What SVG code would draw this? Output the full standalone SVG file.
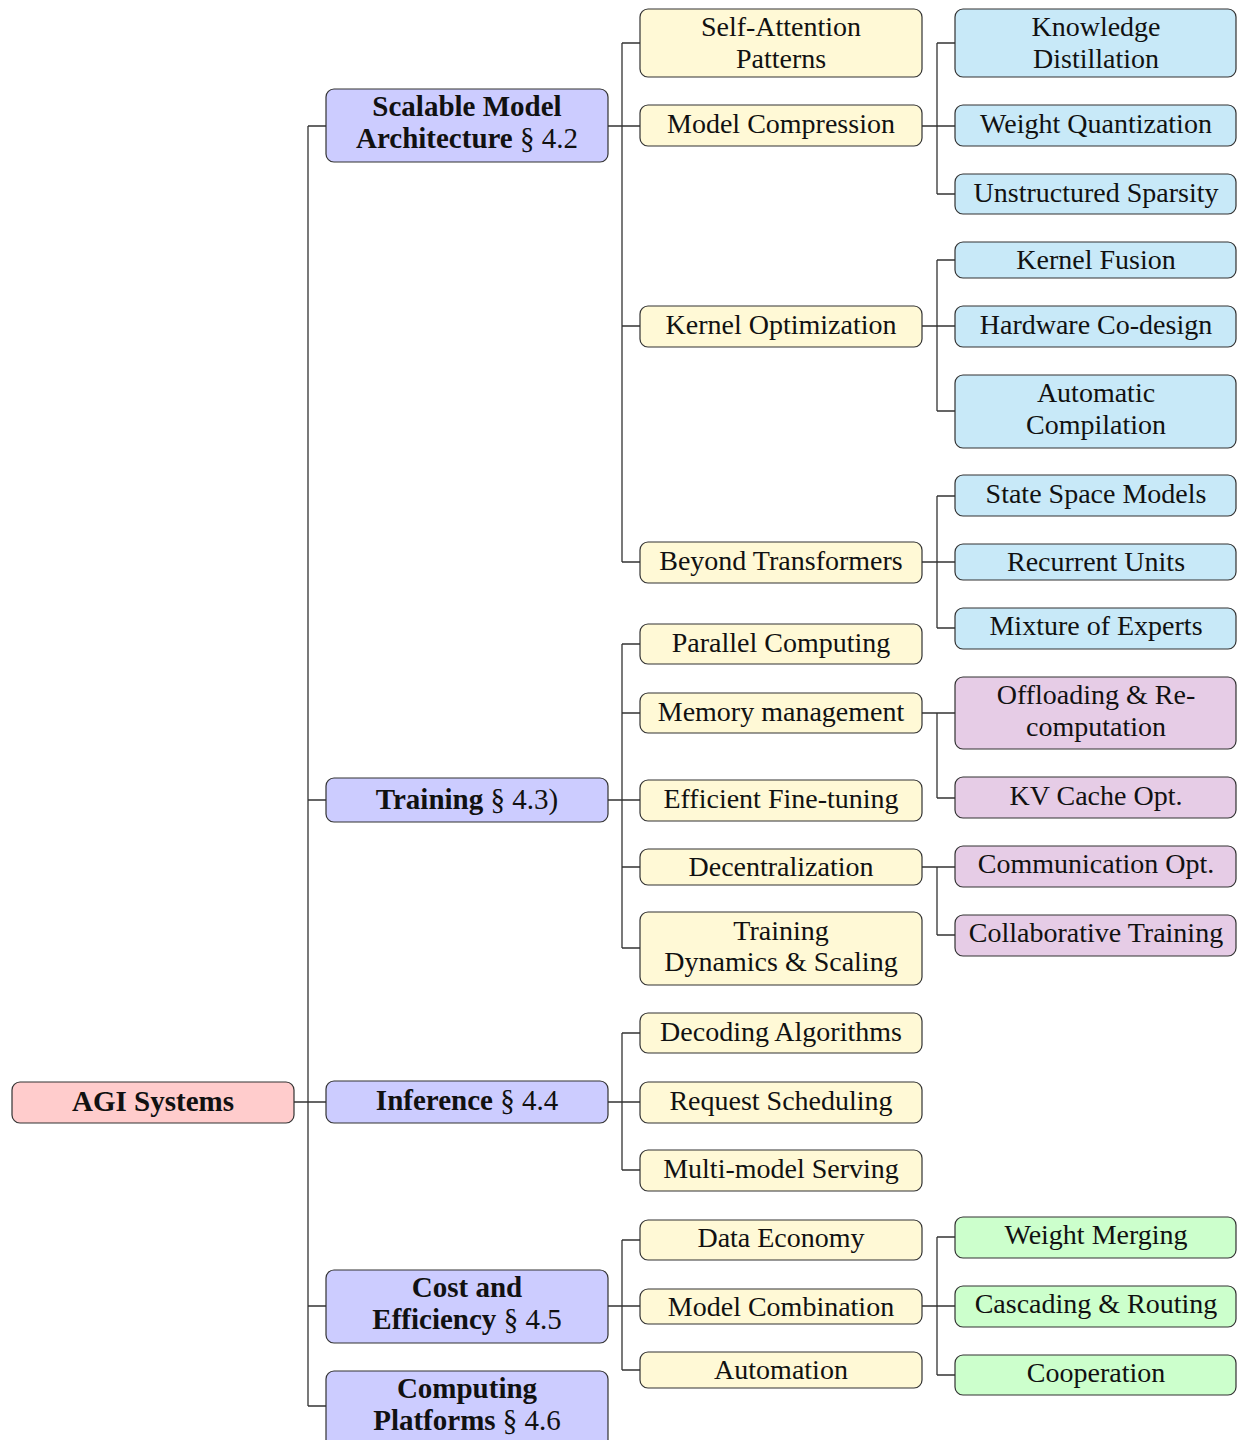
<svg xmlns="http://www.w3.org/2000/svg" width="1237" height="1440" viewBox="0 0 1237 1440">
<style>
rect{stroke:#333;stroke-width:1.2;}
.r0{fill:#ffcccc}.r1{fill:#ccccff}.r2{fill:#fff9d6}.rb{fill:#c8e9f8}.rp{fill:#e6cce6}.rg{fill:#ccffcc}
text{font-family:"Liberation Serif","Times New Roman",serif;font-size:28px;fill:#111;text-anchor:middle}
.b{font-weight:bold;font-size:29px}
.n{font-weight:normal}
#connectors path{fill:none;stroke:#333;stroke-width:1.3}
</style>
<g id="connectors">
<path d="M294 1102H308M308 126V1406M308 126H326M308 800H326M308 1102H326M308 1306H326M308 1406H326"/>
<path d="M608 126H622M622 43V562M622 43H640M622 126H640M622 326H640M622 562H640"/>
<path d="M608 800H622M622 644V948M622 644H640M622 713H640M622 800H640M622 867H640M622 948H640"/>
<path d="M608 1102H622M622 1033V1170M622 1033H640M622 1102H640M622 1170H640"/>
<path d="M608 1306H622M622 1240V1370M622 1240H640M622 1306H640M622 1370H640"/>
<path d="M922 126H937M937 43V194M937 43H955M937 126H955M937 194H955"/>
<path d="M922 326H937M937 260V411M937 260H955M937 326H955M937 411H955"/>
<path d="M922 562H937M937 496V628M937 496H955M937 562H955M937 628H955"/>
<path d="M922 713H937M937 713V798M937 713H955M937 798H955"/>
<path d="M922 867H937M937 867V935M937 867H955M937 935H955"/>
<path d="M922 1306H937M937 1237V1375M937 1237H955M937 1306H955M937 1375H955"/>
</g>
<g id="agi"><rect class="r0" x="12" y="1082" width="282" height="41" rx="8"/><text class="b" x="153" y="1111">AGI Systems</text></g>
<g id="scalable"><rect class="r1" x="326" y="89" width="282" height="73" rx="8"/><text class="b" x="467" y="116">Scalable Model</text><text class="b" x="467" y="148">Architecture <tspan class="n">§ 4.2</tspan></text></g>
<g id="training"><rect class="r1" x="326" y="778" width="282" height="44" rx="8"/><text class="b" x="467" y="809">Training <tspan class="n">§ 4.3)</tspan></text></g>
<g id="inference"><rect class="r1" x="326" y="1081" width="282" height="42" rx="8"/><text class="b" x="467" y="1110">Inference <tspan class="n">§ 4.4</tspan></text></g>
<g id="cost"><rect class="r1" x="326" y="1270" width="282" height="73" rx="8"/><text class="b" x="467" y="1297">Cost and</text><text class="b" x="467" y="1329">Efficiency <tspan class="n">§ 4.5</tspan></text></g>
<g id="computing"><rect class="r1" x="326" y="1371" width="282" height="80" rx="8"/><text class="b" x="467" y="1398">Computing</text><text class="b" x="467" y="1430">Platforms <tspan class="n">§ 4.6</tspan></text></g>

<g id="selfatt"><rect class="r2" x="640" y="9" width="282" height="68" rx="8"/><text x="781" y="36">Self-Attention</text><text x="781" y="68">Patterns</text></g>
<g id="modelcomp"><rect class="r2" x="640" y="105" width="282" height="41" rx="8"/><text x="781" y="133">Model Compression</text></g>
<g id="kernelopt"><rect class="r2" x="640" y="306" width="282" height="41" rx="8"/><text x="781" y="334">Kernel Optimization</text></g>
<g id="beyond"><rect class="r2" x="640" y="542" width="282" height="41" rx="8"/><text x="781" y="570">Beyond Transformers</text></g>
<g id="parallel"><rect class="r2" x="640" y="624" width="282" height="40" rx="8"/><text x="781" y="652">Parallel Computing</text></g>
<g id="memory"><rect class="r2" x="640" y="693" width="282" height="40" rx="8"/><text x="781" y="721">Memory management</text></g>
<g id="finetune"><rect class="r2" x="640" y="780" width="282" height="41" rx="8"/><text x="781" y="808">Efficient Fine-tuning</text></g>
<g id="decentral"><rect class="r2" x="640" y="849" width="282" height="36" rx="8"/><text x="781" y="876">Decentralization</text></g>
<g id="dynamics"><rect class="r2" x="640" y="912" width="282" height="73" rx="8"/><text x="781" y="940">Training</text><text x="781" y="971">Dynamics &amp; Scaling</text></g>
<g id="decoding"><rect class="r2" x="640" y="1013" width="282" height="40" rx="8"/><text x="781" y="1041">Decoding Algorithms</text></g>
<g id="request"><rect class="r2" x="640" y="1082" width="282" height="41" rx="8"/><text x="781" y="1110">Request Scheduling</text></g>
<g id="multimodel"><rect class="r2" x="640" y="1150" width="282" height="41" rx="8"/><text x="781" y="1178">Multi-model Serving</text></g>
<g id="dataeco"><rect class="r2" x="640" y="1220" width="282" height="40" rx="8"/><text x="781" y="1247">Data Economy</text></g>
<g id="modelcomb"><rect class="r2" x="640" y="1289" width="282" height="35" rx="8"/><text x="781" y="1316">Model Combination</text></g>
<g id="automation"><rect class="r2" x="640" y="1352" width="282" height="36" rx="8"/><text x="781" y="1379">Automation</text></g>

<g id="kd"><rect class="rb" x="955" y="9" width="281" height="68" rx="8"/><text x="1096" y="36">Knowledge</text><text x="1096" y="68">Distillation</text></g>
<g id="wq"><rect class="rb" x="955" y="105" width="281" height="41" rx="8"/><text x="1096" y="133">Weight Quantization</text></g>
<g id="us"><rect class="rb" x="955" y="174" width="281" height="40" rx="8"/><text x="1096" y="202">Unstructured Sparsity</text></g>
<g id="kf"><rect class="rb" x="955" y="242" width="281" height="36" rx="8"/><text x="1096" y="269">Kernel Fusion</text></g>
<g id="hw"><rect class="rb" x="955" y="306" width="281" height="41" rx="8"/><text x="1096" y="334">Hardware Co-design</text></g>
<g id="ac"><rect class="rb" x="955" y="375" width="281" height="73" rx="8"/><text x="1096" y="402">Automatic</text><text x="1096" y="434">Compilation</text></g>
<g id="ssm"><rect class="rb" x="955" y="475" width="281" height="41" rx="8"/><text x="1096" y="503">State Space Models</text></g>
<g id="ru"><rect class="rb" x="955" y="544" width="281" height="36" rx="8"/><text x="1096" y="571">Recurrent Units</text></g>
<g id="moe"><rect class="rb" x="955" y="608" width="281" height="41" rx="8"/><text x="1096" y="635">Mixture of Experts</text></g>
<g id="offload"><rect class="rp" x="955" y="677" width="281" height="72" rx="8"/><text x="1096" y="704">Offloading &amp; Re-</text><text x="1096" y="736">computation</text></g>
<g id="kv"><rect class="rp" x="955" y="777" width="281" height="41" rx="8"/><text x="1096" y="805">KV Cache Opt.</text></g>
<g id="comm"><rect class="rp" x="955" y="846" width="281" height="41" rx="8"/><text x="1096" y="873">Communication Opt.</text></g>
<g id="collab"><rect class="rp" x="955" y="915" width="281" height="41" rx="8"/><text x="1096" y="942">Collaborative Training</text></g>
<g id="wm"><rect class="rg" x="955" y="1217" width="281" height="41" rx="8"/><text x="1096" y="1244">Weight Merging</text></g>
<g id="cr"><rect class="rg" x="955" y="1286" width="281" height="41" rx="8"/><text x="1096" y="1313">Cascading &amp; Routing</text></g>
<g id="coop"><rect class="rg" x="955" y="1355" width="281" height="40" rx="8"/><text x="1096" y="1382">Cooperation</text></g>
</svg>
